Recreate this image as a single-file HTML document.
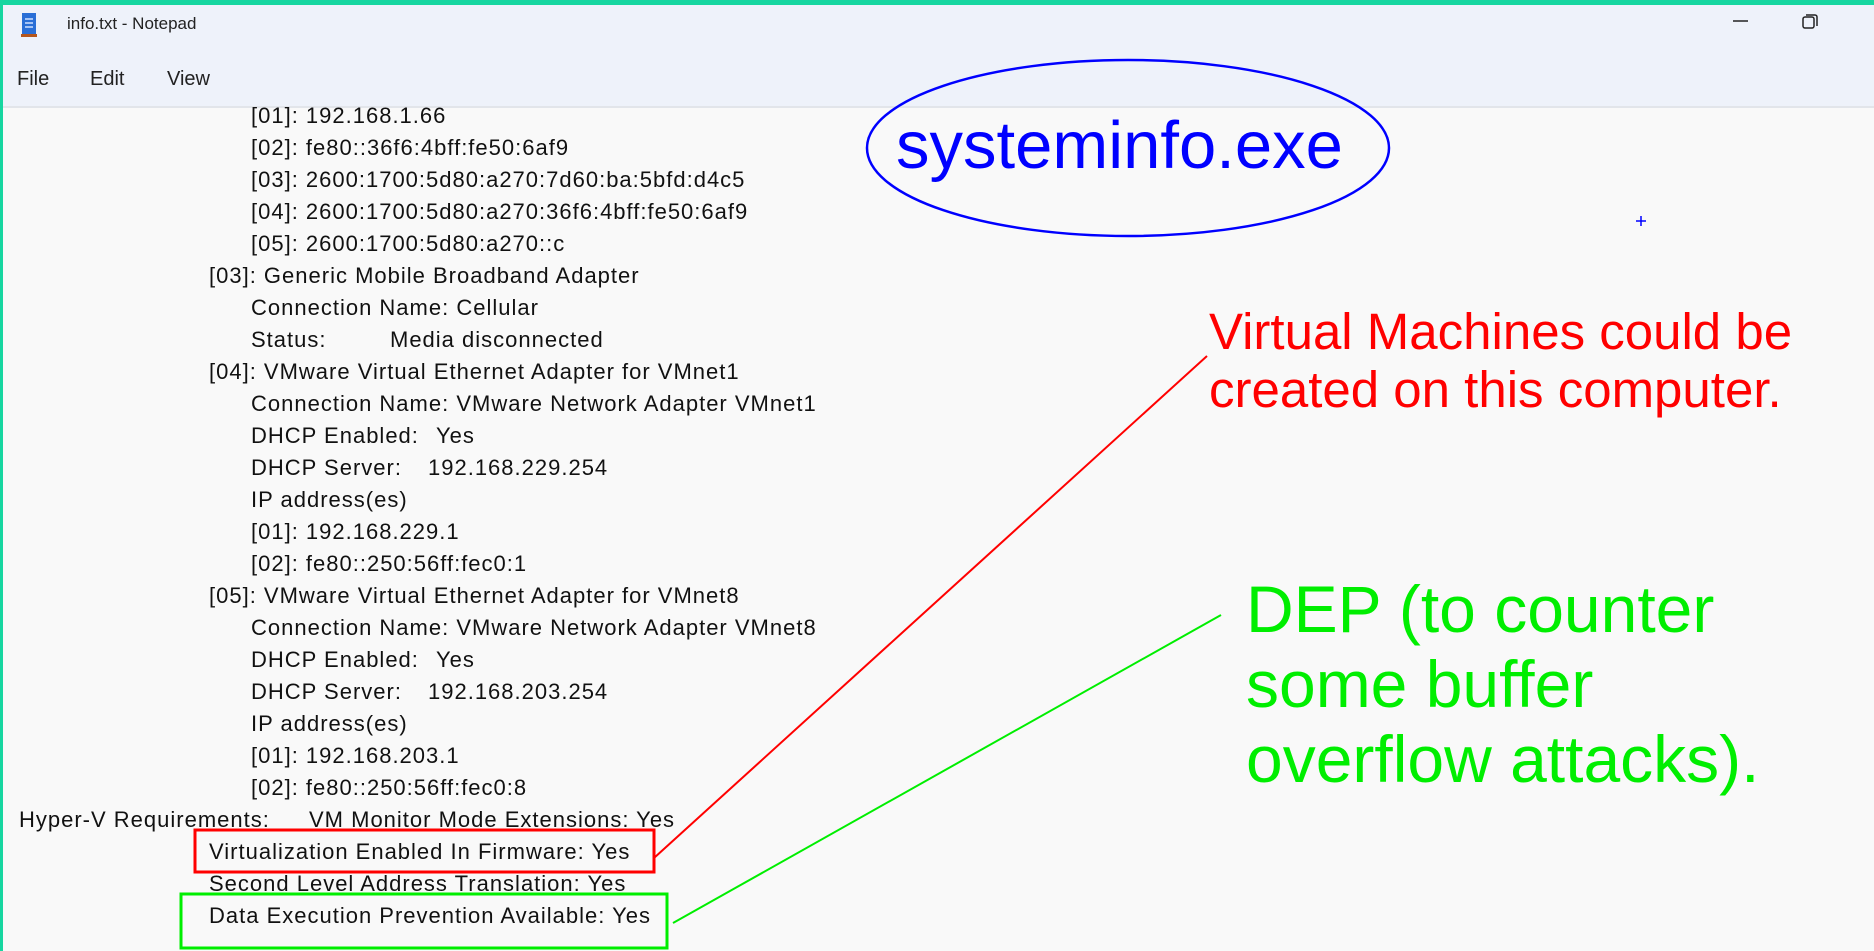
<!DOCTYPE html>
<html><head><meta charset="utf-8"><style>
html,body{margin:0;padding:0}
body{width:1874px;height:951px;position:relative;overflow:hidden;background:#f9f9f9;font-family:"Liberation Sans",sans-serif}
#top{position:absolute;left:0;top:0;width:1874px;height:5px;background:#16d6a0}
#left{position:absolute;left:0;top:0;width:3px;height:951px;background:#16d6a0}
#hdr{position:absolute;left:3px;top:5px;width:1871px;height:101px;background:#eef2fa;border-bottom:2px solid #e2e5ea}
.t{position:absolute;font-size:22px;letter-spacing:1px;color:#111;white-space:pre;line-height:32px}
.ann{position:absolute;white-space:pre;line-height:1}
</style></head><body>
<div id="hdr"></div>
<div id="top"></div><div id="left"></div>
<svg style="position:absolute;left:0;top:0" width="1874" height="951">
<rect x="22" y="13" width="14" height="22" fill="#2a6fd6"/>
<rect x="21" y="34" width="16" height="3" fill="#b5561c"/>
<g stroke="#cfe0ff" stroke-width="1.5"><line x1="25" y1="19" x2="33" y2="19"/><line x1="25" y1="23" x2="33" y2="23"/><line x1="25" y1="27" x2="33" y2="27"/></g>
<line x1="1733" y1="21" x2="1748" y2="21" stroke="#222" stroke-width="1.5"/>
<rect x="1803" y="17" width="11" height="11" rx="2" fill="none" stroke="#222" stroke-width="1.5"/>
<path d="M1806 15 h9 a2 2 0 0 1 2 2 v9" fill="none" stroke="#222" stroke-width="1.5"/>
</svg>
<div class="ann" style="left:67px;top:15px;font-size:17px;color:#222">info.txt - Notepad</div>
<div class="ann" style="left:17px;top:69px;font-size:20px;color:#222">File</div>
<div class="ann" style="left:90px;top:69px;font-size:20px;color:#222">Edit</div>
<div class="ann" style="left:167px;top:69px;font-size:20px;color:#222">View</div>

<div class="t" style="left:251px;top:100px">[01]: 192.168.1.66</div>
<div class="t" style="left:251px;top:132px">[02]: fe80::36f6:4bff:fe50:6af9</div>
<div class="t" style="left:251px;top:164px">[03]: 2600:1700:5d80:a270:7d60:ba:5bfd:d4c5</div>
<div class="t" style="left:251px;top:196px">[04]: 2600:1700:5d80:a270:36f6:4bff:fe50:6af9</div>
<div class="t" style="left:251px;top:228px">[05]: 2600:1700:5d80:a270::c</div>
<div class="t" style="left:209px;top:260px">[03]: Generic Mobile Broadband Adapter</div>
<div class="t" style="left:251px;top:292px">Connection Name: Cellular</div>
<div class="t" style="left:251px;top:324px">Status:</div><div class="t" style="left:390px;top:324px">Media disconnected</div>
<div class="t" style="left:209px;top:356px">[04]: VMware Virtual Ethernet Adapter for VMnet1</div>
<div class="t" style="left:251px;top:388px">Connection Name: VMware Network Adapter VMnet1</div>
<div class="t" style="left:251px;top:420px">DHCP Enabled:</div><div class="t" style="left:436px;top:420px">Yes</div>
<div class="t" style="left:251px;top:452px">DHCP Server:</div><div class="t" style="left:428px;top:452px">192.168.229.254</div>
<div class="t" style="left:251px;top:484px">IP address(es)</div>
<div class="t" style="left:251px;top:516px">[01]: 192.168.229.1</div>
<div class="t" style="left:251px;top:548px">[02]: fe80::250:56ff:fec0:1</div>
<div class="t" style="left:209px;top:580px">[05]: VMware Virtual Ethernet Adapter for VMnet8</div>
<div class="t" style="left:251px;top:612px">Connection Name: VMware Network Adapter VMnet8</div>
<div class="t" style="left:251px;top:644px">DHCP Enabled:</div><div class="t" style="left:436px;top:644px">Yes</div>
<div class="t" style="left:251px;top:676px">DHCP Server:</div><div class="t" style="left:428px;top:676px">192.168.203.254</div>
<div class="t" style="left:251px;top:708px">IP address(es)</div>
<div class="t" style="left:251px;top:740px">[01]: 192.168.203.1</div>
<div class="t" style="left:251px;top:772px">[02]: fe80::250:56ff:fec0:8</div>
<div class="t" style="left:19px;top:804px">Hyper-V Requirements:</div><div class="t" style="left:309px;top:804px">VM Monitor Mode Extensions: Yes</div>
<div class="t" style="left:209px;top:836px">Virtualization Enabled In Firmware: Yes</div>
<div class="t" style="left:209px;top:868px">Second Level Address Translation: Yes</div>
<div class="t" style="left:209px;top:900px">Data Execution Prevention Available: Yes</div>

<svg style="position:absolute;left:0;top:0" width="1874" height="951">
<ellipse cx="1128" cy="148" rx="261" ry="88" fill="none" stroke="#0000ff" stroke-width="2.5"/>
<g stroke="#0000ff" stroke-width="1.5"><line x1="1636" y1="221" x2="1646" y2="221"/><line x1="1641" y1="216" x2="1641" y2="226"/></g>
<rect x="195" y="830" width="459" height="42" fill="none" stroke="#ff0000" stroke-width="3"/>
<rect x="181" y="894" width="486" height="54" fill="none" stroke="#00ee00" stroke-width="3"/>
<line x1="654" y1="858" x2="1207" y2="356" stroke="#ff0000" stroke-width="2"/>
<line x1="673" y1="923" x2="1221" y2="615" stroke="#00ee00" stroke-width="2"/>
</svg>
<div class="ann" style="left:896px;top:112px;font-size:67px;color:#0000ff">systeminfo.exe</div>
<div class="ann" style="left:1209px;top:303px;font-size:51px;color:#ff0000;line-height:58px">Virtual Machines could be
created on this computer.</div>
<div class="ann" style="left:1246px;top:572px;font-size:66px;color:#00ee00;line-height:75px">DEP (to counter
some buffer
overflow attacks).</div>
</body></html>
